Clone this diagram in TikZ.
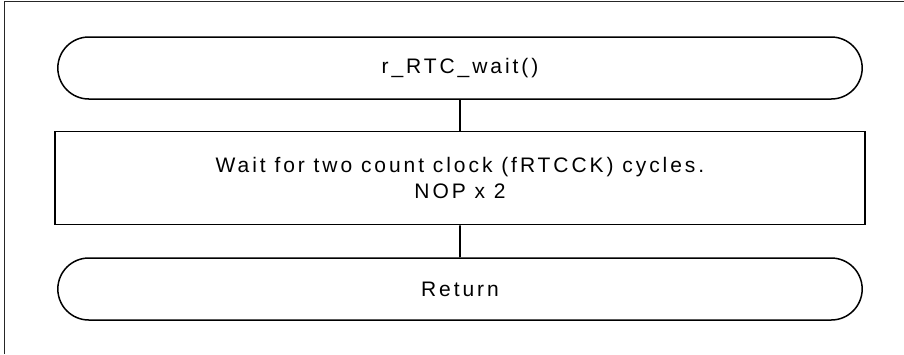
\documentclass[tikz,border=0pt]{standalone}
\usepackage{fontspec}
\setmainfont{Liberation Sans}
\newfontfamily\flowfont[LetterSpace=14]{Liberation Sans}
\usetikzlibrary{shapes.misc, positioning}

\begin{document}
\begin{tikzpicture}[
    x=1pt, y=1pt,
    node distance=31pt,
    terminal/.style={rounded rectangle, minimum width=811pt, minimum height=62pt, text centered, draw=black, line width=1.5pt, font=\flowfont\fontsize{21}{26}\selectfont},
    process/.style={rectangle, minimum width=810pt, minimum height=93pt, align=center, draw=black, line width=1.5pt, font=\flowfont\fontsize{21}{26}\selectfont},
    link/.style={line width=1.6pt}
]
\useasboundingbox (0,0) rectangle (904,-354);

% Frame
\draw[line width=1.2pt, black!85] (4.5,-354) -- (4.5,-1.5) -- (904,-1.5);

% Flow from top to bottom
\node[terminal] (start) at (460,-68) {r\_RTC\_wait()};
\node[process, below=of start] (waitbox) {Wait for two count clock (fRTCCK) cycles.\\NOP x 2};
\node[terminal, below=32pt of waitbox] (return) {Return};

% Connectors
\draw[link] (start) -- (waitbox);
\draw[link] (waitbox) -- (return);

\end{tikzpicture}
\end{document}
